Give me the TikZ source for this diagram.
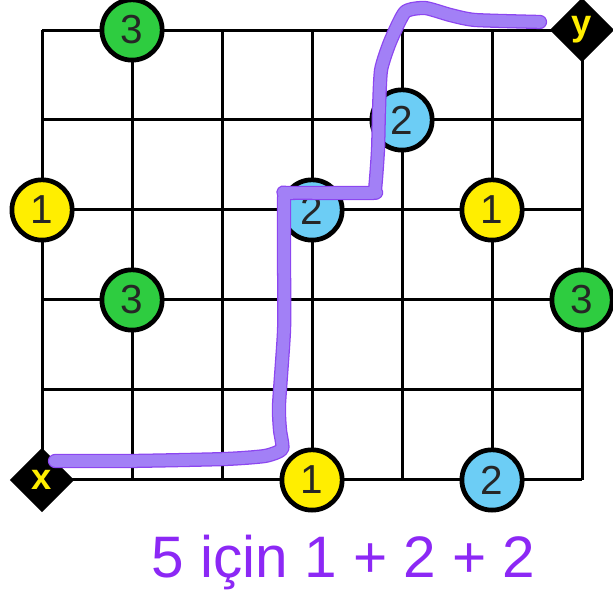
\documentclass[tikz,border=0pt]{standalone}
\usepackage{fontspec}
\setmainfont{Liberation Sans}
\usetikzlibrary{shapes.geometric}
\definecolor{cgreen}{RGB}{46,204,64}
\definecolor{cyellow}{RGB}{255,238,0}
\definecolor{cblue}{RGB}{108,205,245}
\definecolor{pathlight}{RGB}{162,128,246}
\definecolor{pathdark}{RGB}{140,70,240}
\definecolor{txtviolet}{RGB}{140,40,245}
\tikzset{
  gridline/.style={line width=0.95pt, black},
  dot/.style={circle, draw=black, line width=1.5pt, minimum size=0.67cm, inner sep=0pt, font=\fontsize{12.8}{14}\selectfont, text=black!85},
  gdot/.style={dot, fill=cgreen},
  ydot/.style={dot, fill=cyellow},
  bdot/.style={dot, fill=cblue},
  endpt/.style={diamond, fill=black, minimum size=0.72cm, inner sep=0pt, text=cyellow, font=\fontsize{11.5}{12}\selectfont\bfseries},
}
\begin{document}
\begin{tikzpicture}
\useasboundingbox (-0.467,-1.267) rectangle (6.344,5.333);
\draw[gridline] (0,0) grid (6,5);
\node[gdot] (g1) at (1,5) {3};
\node[gdot] (g2) at (1,2) {3};
\node[gdot] (g3) at (6,2) {3};
\node[ydot] (y1) at (0,3) {1};
\node[ydot] (y2) at (5,3) {1};
\node[ydot] (y3) at (3,0) {1};
\node[bdot] (b1) at (3,3) {2};
\node[bdot] (b2) at (4,4) {2};
\node[bdot] (b3) at (5,0) {2};
\node[endpt] (x) at (0,0) {x};
\node[endpt] (y) at (6,5) {y};
\coordinate (ps) at (0.144,0.211);
\coordinate (pe) at (5.533,5.089);
\foreach \w/\c in {4.5pt/pathdark, 3.7pt/pathlight}{
\draw[line width=\w, \c, line cap=round, line join=round]
  plot[smooth, tension=0.35] coordinates {
  (ps) (0.978,0.211) (2.033,0.233) (2.478,0.267) (2.667,0.344) (2.644,0.556)
  (2.633,0.833) (2.689,1.667) (2.689,2.444) (2.69,3.15) (2.74,3.189) (3.66,3.189) (3.7,3.23)
  (3.733,3.667) (3.744,4.111) (3.767,4.556) (3.867,4.867) (4.033,5.2)
  (4.256,5.244) (4.533,5.167) (4.811,5.111) (pe)};
}
\node[anchor=base, text=txtviolet, font=\fontsize{18.5}{20}\selectfont] (cap) at (3.35,-1.078) {5 için 1 + 2 + 2};
\end{tikzpicture}
\end{document}
